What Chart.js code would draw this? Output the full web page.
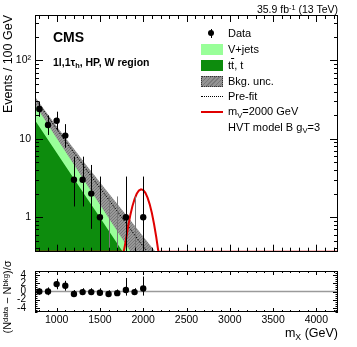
<!DOCTYPE html>
<html>
<head>
<meta charset="utf-8">
<script src="https://cdn.jsdelivr.net/npm/chart.js@4.4.0/dist/chart.umd.min.js"></script>
<style>
  html, body { margin: 0; padding: 0; background: #fff; }
  #wrap { position: relative; width: 357px; height: 347px; overflow: hidden;
          font-family: "Liberation Sans", Arial, sans-serif; color: #000; }
  canvas { position: absolute; left: 0; }
  .t { position: absolute; white-space: nowrap; line-height: 1; }
  sub, sup { font-size: 70%; line-height: 0; position: relative; vertical-align: baseline; }
  sup { top: -0.45em; }
  sub { bottom: -0.3em; }
  .rot { transform-origin: 0 0; transform: rotate(-90deg); }
  .box { position: absolute; width: 22px; height: 11px; }
</style>
</head>
<body>
<div id="wrap">
  <canvas id="main" width="357" height="262" style="top:0"></canvas>
  <canvas id="pull" width="357" height="91" style="top:256px"></canvas>

  <div class="t" style="right:19px;top:4px;font-size:10.5px">35.9 fb<sup>-1</sup> (13 TeV)</div>
  <div class="t" style="left:53px;top:30px;font-weight:bold;font-size:14px">CMS</div>
  <div class="t" style="left:53px;top:57px;font-weight:bold;font-size:10.5px">1l,1τ<sub>h</sub>, HP, W region</div>

  <div class="t rot" style="left:2px;top:135px;width:120px;text-align:right;font-size:12.5px">Events / 100 GeV</div>
  <div class="t rot" style="left:2px;top:347px;width:100px;text-align:center;font-size:11px">(N<sup>data</sup> − N<sup>bkg</sup>)/σ</div>
  <div class="t" style="right:19px;top:327px;font-size:12.5px">m<sub>X</sub> (GeV)</div>

  <!-- legend -->
  <div style="position:absolute;left:208px;top:30.3px;width:6px;height:6px;border-radius:3px;background:#000"></div>
  <div style="position:absolute;left:210.5px;top:29px;width:1px;height:9px;background:#000"></div>
  <div class="t" style="left:228px;top:28px;font-size:11px">Data</div>

  <div class="box" style="left:201px;top:44px;background:#99ff99"></div>
  <div class="t" style="left:228px;top:44.3px;font-size:11px">V+jets</div>

  <div class="box" style="left:201px;top:59.5px;height:11.5px;background:#0d8c0d"></div>
  <div class="t" style="left:228px;top:59.6px;font-size:11px">t<span style="text-decoration:overline">t</span>, t</div>

  <div class="box" style="left:201px;top:76px;box-sizing:border-box;border:1px dotted #333;
       background:repeating-linear-gradient(135deg,#7a7a7a 0 1px,#949494 1px 3px)"></div>
  <div class="t" style="left:228px;top:76.3px;font-size:11px">Bkg. unc.</div>

  <div style="position:absolute;left:201px;top:96px;width:22px;border-top:1px dotted #000"></div>
  <div class="t" style="left:228px;top:91.3px;font-size:11px">Pre-fit</div>

  <div style="position:absolute;left:201px;top:110.5px;width:22px;height:2px;background:#e00000"></div>
  <div class="t" style="left:228px;top:106.3px;font-size:11px">m<sub>V</sub>=2000 GeV</div>

  <div class="t" style="left:228px;top:121.5px;font-size:11px">HVT model B g<sub>V</sub>=3</div>
</div>

<script>
  // ---- background curves, sampled every 100 GeV
  const MASS = [750, 850, 950, 1050, 1150, 1250, 1350, 1450, 1550, 1650, 1750, 1850, 1950, 2050, 2150, 2250];
  const TTBAR = [17.2, 11.8, 8.04, 5.5, 3.75, 2.56, 1.75, 1.2, 0.818, 0.558, 0.381, 0.26, 0.178, 0.121, 0.083, 0.057];
  const VJETS_TOTAL = [30.5, 21.1, 14.6, 10.1, 7.0, 4.86, 3.37, 2.33, 1.61, 1.12, 0.775, 0.537, 0.372, 0.258, 0.178, 0.123];
  const UNC_UP = [34.3, 24.2, 17.1, 12.2, 8.8, 6.29, 4.51, 3.28, 2.38, 1.73, 1.26, 0.92, 0.667, 0.484, 0.353, 0.256];
  const UNC_DOWN = [27.2, 18.4, 12.4, 8.4, 5.69, 3.85, 2.6, 1.76, 1.19, 0.805, 0.545, 0.368, 0.249, 0.168, 0.114, 0.077];
  const PREFIT = [32.5, 22.8, 16.0, 11.2, 7.9, 5.6, 3.95, 2.8, 2.0, 1.42, 1.0, 0.71, 0.5, 0.36, 0.26, 0.18];

  // ---- signal m_V = 2000 GeV
  const SIG_X = [750, 1750, 1775, 1800, 1825, 1850, 1875, 1900, 1925, 1950, 1975, 2000, 2025, 2050, 2075, 2100, 2125, 2150, 2175, 2200, 2225, 2250, 4250];
  const SIG_Y = [0, 0.196, 0.326, 0.51, 0.754, 1.05, 1.38, 1.70, 1.99, 2.19, 2.27, 2.22, 2.05, 1.78, 1.46, 1.13, 0.82, 0.563, 0.365, 0.222, 0.128, 0, 0];

  // ---- data
  const DATA_X = [800, 900, 1000, 1100, 1200, 1300, 1400, 1500, 1600, 1700, 1800, 1900, 2000];
  const DATA_Y = [24, 15, 17, 11, 3, 3, 2, 1, 0, 0, 1, 0, 1];
  const DATA_LO = [19.1, 11.2, 12.9, 7.7, 1.37, 1.37, 0.71, 0.17, 0, 0, 0.17, 0, 0.17];
  const DATA_HI = [30.0, 19.9, 22.2, 15.4, 5.92, 5.92, 4.64, 3.30, 1.84, 1.84, 3.30, 1.84, 3.30];

  // ---- pulls (N_data - N_bkg)/sigma
  const PULL = [0, 0, 1.8, 1.4, -0.6, -0.15, -0.15, -0.3, -0.6, -0.4, 0.35, -0.15, 0.75];
  const PULL_LO = [-0.75, -0.9, 0.55, 0.2, -1.25, -0.85, -0.85, -1.0, -0.6, -0.4, -1.0, -0.15, -1.0];
  const PULL_HI = [0.8, 1.0, 3.1, 2.6, 0.35, 0.8, 0.8, 0.8, 0.3, 0.5, 3.3, 0.8, 3.65];

  // ---- axes
  const X_MIN = 750, X_MAX = 4250;
  const Y_MIN = 0.363, Y_MAX = 380;
  const X_LABELS = [1000, 1500, 2000, 2500, 3000, 3500, 4000];
  const Y_LABELS = [1, 10, 100];
  const PULL_LABELS = [-4, -2, 0, 2, 4];

  const X_MINOR = [];
  for (let m = 800; m <= 4200; m += 100) X_MINOR.push(m);
  const Y_MINOR = [0.4, 0.5, 0.6, 0.7, 0.8, 0.9, 2, 3, 4, 5, 6, 7, 8, 9, 20, 30, 40, 50, 60, 70, 80, 90, 200, 300];
  const PULL_MINOR = [];
  for (let v = -5; v <= 5; v += 0.5) PULL_MINOR.push(v);

  Chart.defaults.font.family = '"Liberation Sans", Arial, sans-serif';
  Chart.defaults.color = '#000';

  const xy = (xs, ys) => xs.map((x, i) => ({ x, y: ys[i] }));
  const none = 'rgba(0,0,0,0)';

  function hatch() {
    const c = document.createElement('canvas');
    c.width = 3; c.height = 3;
    const g = c.getContext('2d');
    g.fillStyle = '#989898'; g.fillRect(0, 0, 3, 3);
    g.fillStyle = '#787878';
    g.fillRect(0, 2, 1, 1); g.fillRect(1, 1, 1, 1); g.fillRect(2, 0, 1, 1);
    return g.createPattern(c, 'repeat');
  }

  // frame + inside ticks, ROOT style
  function framePlugin(xTicks, yTicks) {
    return {
      id: 'frame',
      afterDraw(chart) {
        const { ctx, chartArea: a } = chart;
        const sx = chart.scales.x, sy = chart.scales.y;
        ctx.save();
        ctx.strokeStyle = '#000';
        ctx.lineWidth = 1;
        ctx.beginPath();
        xTicks.forEach(([vals, len]) => vals.forEach(v => {
          const p = Math.round(sx.getPixelForValue(v)) + 0.5;
          ctx.moveTo(p, a.bottom); ctx.lineTo(p, a.bottom - len);
          ctx.moveTo(p, a.top); ctx.lineTo(p, a.top + len);
        }));
        yTicks.forEach(([vals, len]) => vals.forEach(v => {
          const p = Math.round(sy.getPixelForValue(v)) + 0.5;
          ctx.moveTo(a.left, p); ctx.lineTo(a.left + len, p);
          ctx.moveTo(a.right, p); ctx.lineTo(a.right - len, p);
        }));
        ctx.stroke();
        ctx.strokeRect(Math.round(a.left) + 0.5, Math.round(a.top) + 0.5,
                       Math.round(a.right - a.left) - 1, Math.round(a.bottom - a.top) - 1);
        ctx.restore();
      }
    };
  }

  function errorBarPlugin(xs, ys, lo, hi) {
    return {
      id: 'errbars',
      afterDatasetsDraw(chart) {
        const { ctx, chartArea: a } = chart;
        const sx = chart.scales.x, sy = chart.scales.y;
        ctx.save();
        ctx.beginPath();
        ctx.rect(a.left, a.top, a.right - a.left, a.bottom - a.top);
        ctx.clip();
        ctx.lineWidth = 1;
        xs.forEach((x, i) => {
          const px = Math.round(sx.getPixelForValue(x)) + 0.5;
          const y0 = lo[i] > sy.min ? sy.getPixelForValue(lo[i]) : a.bottom;
          const y1 = sy.getPixelForValue(hi[i]);
          ctx.strokeStyle = ys[i] === 0 && sy.type === 'logarithmic' ? '#777' : '#000';
          ctx.beginPath(); ctx.moveTo(px, y0); ctx.lineTo(px, y1); ctx.stroke();
        });
        ctx.restore();
      }
    };
  }

  const setTicks = vals => s => { s.ticks = vals.map(v => ({ value: v })); };
  const hiddenGrid = { display: false, drawTicks: false };

  new Chart(document.getElementById('main'), {
    type: 'line',
    data: {
      datasets: [
        { label: 'Data', data: DATA_X.map((x, i) => ({ x, y: DATA_Y[i] > 0 ? DATA_Y[i] : null })),
          showLine: false, pointRadius: 3.2, pointBackgroundColor: '#000', pointBorderWidth: 0, order: 0 },
        { label: 'Signal', data: SIG_X.map((x, i) => ({ x, y: Math.max(SIG_Y[i], Y_MIN) })),
          borderColor: '#e00000', borderWidth: 2, pointRadius: 0, order: 1 },
        { label: 'Pre-fit', data: xy(MASS, PREFIT), borderColor: '#000', borderWidth: 1,
          borderDash: [1.5, 1.5], pointRadius: 0, order: 2 },
        { label: 'Bkg. unc.', data: xy(MASS, UNC_UP), borderColor: none, backgroundColor: hatch(),
          fill: '+1', pointRadius: 0, order: 3 },
        { label: 'unc down', data: xy(MASS, UNC_DOWN), borderColor: none, fill: false, pointRadius: 0, order: 3 },
        { label: 'tt, t', data: xy(MASS, TTBAR), borderColor: none, backgroundColor: '#0d8c0d',
          fill: 'start', pointRadius: 0, order: 4 },
        { label: 'V+jets', data: xy(MASS, VJETS_TOTAL), borderColor: none, backgroundColor: '#99ff99',
          fill: 'start', pointRadius: 0, order: 5 }
      ]
    },
    options: {
      responsive: false,
      animation: false,
      events: [],
      layout: { padding: { top: 15, right: 19, left: 0, bottom: 0 } },
      plugins: { legend: { display: false }, tooltip: { enabled: false } },
      scales: {
        x: {
          type: 'linear', min: X_MIN, max: X_MAX,
          grid: hiddenGrid, border: { display: false },
          ticks: { display: false },
          afterFit: s => { s.height = 7; }
        },
        y: {
          type: 'logarithmic', min: Y_MIN, max: Y_MAX,
          grid: hiddenGrid, border: { display: false },
          afterBuildTicks: setTicks(Y_LABELS),
          ticks: { autoSkip: false, padding: 4, font: { size: 10.5 },
                   callback: v => (v === 100 ? '10²' : String(v)) },
          afterFit: s => { s.width = 35; }
        }
      }
    },
    plugins: [
      framePlugin([[X_LABELS, 7], [X_MINOR, 4]], [[Y_LABELS, 8], [Y_MINOR, 4]]),
      errorBarPlugin(DATA_X, DATA_Y, DATA_LO, DATA_HI)
    ]
  });

  new Chart(document.getElementById('pull'), {
    type: 'line',
    data: {
      datasets: [
        { label: 'Pull', data: xy(DATA_X, PULL), showLine: false, pointRadius: 3.2,
          pointBackgroundColor: '#000', pointBorderWidth: 0, order: 0 },
        { label: 'zero', data: xy([X_MIN, X_MAX], [0, 0]), borderColor: '#9a9a9a', borderWidth: 1.5,
          pointRadius: 0, order: 1 }
      ]
    },
    options: {
      responsive: false,
      animation: false,
      events: [],
      layout: { padding: { top: 8, right: 19, left: 0, bottom: 0 } },
      plugins: { legend: { display: false }, tooltip: { enabled: false } },
      scales: {
        x: {
          type: 'linear', min: X_MIN, max: X_MAX,
          grid: hiddenGrid, border: { display: false },
          afterBuildTicks: setTicks(X_LABELS),
          ticks: { autoSkip: false, maxRotation: 0, padding: 2, font: { size: 10.5 },
                   callback: v => String(v) },
          afterFit: s => { s.height = 35; }
        },
        y: {
          type: 'linear', min: -5, max: 5,
          grid: hiddenGrid, border: { display: false },
          afterBuildTicks: setTicks(PULL_LABELS),
          ticks: { autoSkip: false, padding: 9, font: { size: 10 },
                   callback: v => String(v) },
          afterFit: s => { s.width = 35; }
        }
      }
    },
    plugins: [
      framePlugin([[X_LABELS, 4], [X_MINOR, 2]], [[PULL_LABELS, 5], [PULL_MINOR, 2.5]]),
      errorBarPlugin(DATA_X, PULL, PULL_LO, PULL_HI)
    ]
  });
</script>
</body>
</html>
